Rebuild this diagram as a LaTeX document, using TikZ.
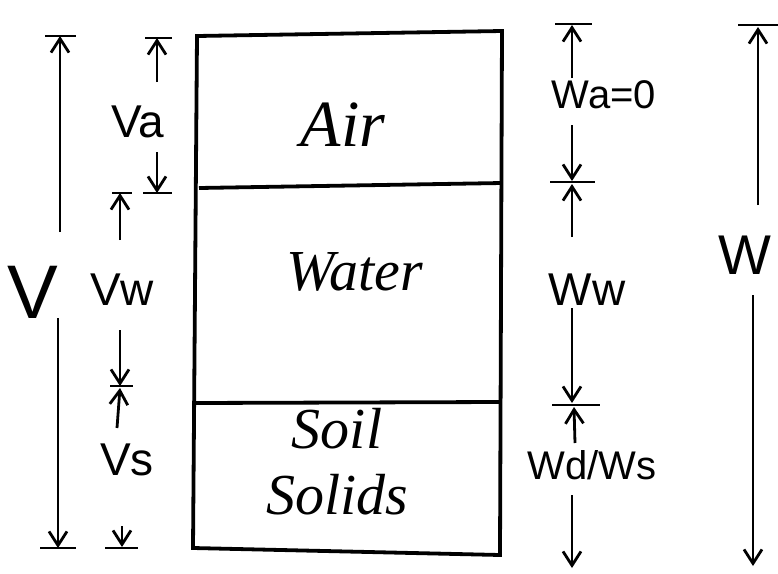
\documentclass[tikz,border=0pt]{standalone}
\usepackage{fontspec}
\setmainfont{Liberation Sans}
\newfontfamily\phasefont{Liberation Serif}
\usetikzlibrary{arrows.meta,positioning}

\begin{document}
\begin{tikzpicture}[x=0.5pt, y=-0.5pt,
      >={Straight Barb[length=7pt,width=9pt]},
      phase/.style={font=\phasefont\itshape\fontsize{29}{33}\selectfont, align=center},
      lbl/.style={font=\fontsize{23}{25}\selectfont, inner sep=0pt},
      biglbl/.style={font=\fontsize{38}{40}\selectfont, inner sep=0pt},
      dim/.style={->, line width=1.4pt},
      tick/.style={line width=1.4pt},
      wall/.style={line width=1.9pt}
    ]
    \useasboundingbox (0,0) rectangle (778,574);

    % the sample
    \coordinate (tl) at (197,36);
    \coordinate (tr) at (502,31);
    \coordinate (br) at (500,555);
    \coordinate (bl) at (193,548);
    \coordinate (awl) at (199,188);
    \coordinate (awr) at (502,183);
    \coordinate (wsl) at (195,403);
    \coordinate (wsr) at (500,402);
    \draw[wall] (tl) -- (tr) -- (br) -- (bl) -- cycle;
    \draw[wall] (awl) -- (awr);
    \draw[wall] (wsl) -- (wsr);

    \node[phase, font=\phasefont\itshape\fontsize{33}{35}\selectfont] (air) at (343,125) {Air};
    \node[phase] (water) at (355,272) {Water};
    \node[phase] (solids) at (337,462) {Soil\\Solids};

    % volumes
    \node[biglbl] (V) at (33,292) {V};
    \coordinate (Vt) at (60,36);
    \coordinate (Vb) at (58,548);
    \coordinate (Vs1) at (60,232);
    \coordinate (Vs2) at (58,318);
    \draw[dim] (Vs1) -- (Vt);
    \draw[dim] (Vs2) -- (Vb);
    \draw[tick] (45,36) -- (76,36);
    \draw[tick] (40,548) -- (76,548);

    \node[lbl] (Va) at (138,122) {Va};
    \coordinate (Vat) at (157,38);
    \coordinate (Vab) at (157,193);
    \coordinate (Va1) at (157,82);
    \coordinate (Va2) at (157,152);
    \draw[dim] (Va1) -- (Vat);
    \draw[dim] (Va2) -- (Vab);
    \draw[tick] (145,38) -- (172,38);
    \draw[tick] (143,193) -- (172,193);

    \node[lbl] (Vw) at (122,290) {Vw};
    \coordinate (Vwt) at (120,193);
    \coordinate (Vwb) at (120,386);
    \coordinate (Vw1) at (120,240);
    \coordinate (Vw2) at (120,330);
    \draw[dim] (Vw1) -- (Vwt);
    \draw[dim] (Vw2) -- (Vwb);
    \draw[tick] (112,193) -- (132,193);
    \draw[tick] (110,386) -- (133,386);

    \node[lbl] (Vsol) at (127,460) {Vs};
    \coordinate (Vst) at (120,388);
    \coordinate (Vsb) at (122,547);
    \coordinate (Vs3) at (117,428);
    \coordinate (Vs4) at (122,526);
    \draw[dim] (Vs3) -- (Vst);
    \draw[dim] (Vs4) -- (Vsb);
    \draw[tick] (105,548) -- (138,548);

    % weights
    \node[lbl, font=\fontsize{20}{22}\selectfont] (Wa) at (604,95) {Wa=0};
    \coordinate (Wat) at (572,25);
    \coordinate (Wab) at (572,181);
    \coordinate (Wa1) at (572,78);
    \coordinate (Wa2) at (572,125);
    \draw[dim] (Wa1) -- (Wat);
    \draw[dim] (Wa2) -- (Wab);
    \draw[tick] (555,24) -- (592,24);
    \draw[tick] (550,182) -- (595,182);

    \node[lbl] (Ww) at (587,290) {Ww};
    \coordinate (Wwt) at (572,184);
    \coordinate (Wwb) at (572,403);
    \coordinate (Ww1) at (572,237);
    \coordinate (Ww2) at (572,308);
    \draw[dim] (Ww1) -- (Wwt);
    \draw[dim] (Ww2) -- (Wwb);
    \draw[tick] (552,405) -- (600,405);

    \node[lbl, font=\fontsize{20}{22}\selectfont] (Wd) at (592,465) {Wd/Ws};
    \coordinate (Wdt) at (574,407);
    \coordinate (Wdb) at (572,568);
    \coordinate (Wd1) at (575,443);
    \coordinate (Wd2) at (572,495);
    \draw[dim] (Wd1) -- (Wdt);
    \draw[dim] (Wd2) -- (Wdb);

    \node[lbl, font=\fontsize{28}{30}\selectfont] (W) at (745,255) {W};
    \coordinate (Wt) at (758,27);
    \coordinate (Wb) at (753,566);
    \coordinate (W1) at (758,205);
    \coordinate (W2) at (753,295);
    \draw[dim] (W1) -- (Wt);
    \draw[dim] (W2) -- (Wb);
    \draw[tick] (738,25) -- (778,25);
\end{tikzpicture}
\end{document}
